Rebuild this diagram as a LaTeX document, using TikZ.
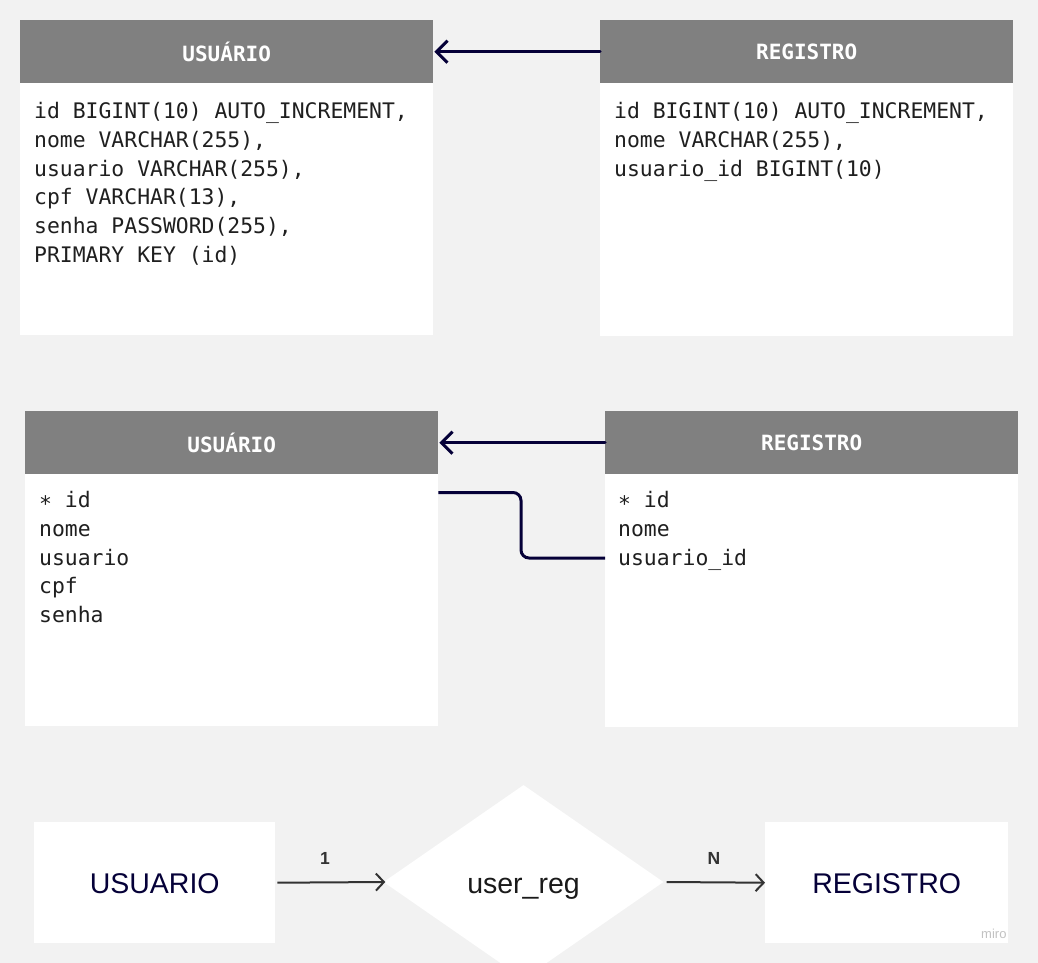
\documentclass[tikz,border=0pt]{standalone}
\usepackage{fontspec}
\usetikzlibrary{shapes.geometric,arrows.meta}
\newfontfamily\monof{DejaVu Sans Mono}
\newfontfamily\sansf{Liberation Sans}
\definecolor{bg}{HTML}{F2F2F2}
\definecolor{hdr}{HTML}{808080}
\definecolor{navy}{HTML}{050038}
\definecolor{dk}{HTML}{333333}
\definecolor{reltext}{HTML}{1A1A1A}
\definecolor{wm}{HTML}{C2C2C2}
\newcommand{\firstline}{\rule{0pt}{20pt}}
\begin{document}
\begin{tikzpicture}[x=1pt,y=-1pt,
  hdrbox/.style={fill=hdr, minimum width=413pt, minimum height=63pt, inner sep=0pt,
    anchor=north west, text=white, font=\monof\bfseries\fontsize{21}{25}\selectfont},
  bodybox/.style={fill=white, minimum width=413pt, minimum height=252pt, inner sep=0pt,
    anchor=north west},
  bodytext/.style={anchor=north west, align=left, inner sep=0pt, text=black!88,
    font=\monof\fontsize{21.4}{28.9}\selectfont},
  fklink/.style={draw=navy, line width=3pt, line cap=round},
  fkarrow/.style={fklink, -{Straight Barb[length=11pt,width=22pt,line width=3pt]}},
  entbox/.style={fill=white, minimum width=241pt, minimum height=121pt, inner sep=0pt,
    text=navy, font=\sansf\fontsize{28.5}{30}\selectfont, text height=21pt, text depth=0pt},
  relbox/.style={diamond, fill=white, minimum width=280pt, minimum height=194pt,
    aspect=1.44, inner sep=0pt, text=reltext, font=\sansf\fontsize{28.5}{30}\selectfont,
    text height=22pt, text depth=0pt},
  erarrow/.style={draw=dk, line width=2pt, -{Straight Barb[length=8pt,width=17pt,line width=2pt]}},
  cardlabel/.style={anchor=base, inner sep=0pt, text=dk, font=\sansf\bfseries\fontsize{17.5}{20}\selectfont}
]
\path[use as bounding box] (0,0) rectangle (1038,963);
\fill[bg] (0,0) rectangle (1038,963);

% ---- top tables ----
\node[bodybox] (ub1) at (20,83) {};
\node[hdrbox] (uh1) at (20,20) {USUÁRIO};
\node[bodytext] (ut1) at (34,98) {\firstline id BIGINT(10) AUTO\_INCREMENT,\\nome VARCHAR(255),\\usuario VARCHAR(255),\\cpf VARCHAR(13),\\senha PASSWORD(255),\\PRIMARY KEY (id)};

\node[bodybox, minimum height=253pt] (rb1) at (600,83) {};
\node[hdrbox] (rh1) at (600,20) {REGISTRO};
\node[bodytext] (rt1) at (614,98) {\firstline id BIGINT(10) AUTO\_INCREMENT,\\nome VARCHAR(255),\\usuario\_id BIGINT(10)};

\draw[fkarrow] (rh1.west) -- ([xshift=1pt]uh1.east);

% ---- middle tables ----
\node[bodybox] (ub2) at (25,474) {};
\node[hdrbox] (uh2) at (25,411) {USUÁRIO};
\node[bodytext] (ut2) at (39,487) {\firstline\raisebox{-0.18em}{*} id\\nome\\usuario\\cpf\\senha};

\node[bodybox, minimum height=253pt] (rb2) at (605,474) {};
\node[hdrbox] (rh2) at (605,411) {REGISTRO};
\node[bodytext] (rt2) at (618,487) {\firstline\raisebox{-0.18em}{*} id\\nome\\usuario\_id};

\draw[fkarrow] (rh2.west) -- ([xshift=1pt]uh2.east);
\coordinate (fkfrom) at ([yshift=-18.5pt]ub2.north east);
\coordinate (fkto) at ([yshift=-84pt]rb2.north west);
\draw[fklink, line cap=butt, rounded corners=8pt] (fkfrom) -- (521,492.5) -- (521,558) -- (fkto);

% ---- ER diagram ----
\node[entbox, anchor=north west] (eu) at (34,822) {USUARIO};
\node[entbox, anchor=north west, minimum width=243pt] (er) at (765,822) {REGISTRO};
\begin{scope}
\clip (0,0) rectangle (1038,963);
\node[relbox] (rel) at (523.5,882) {user\_reg};
\end{scope}
\draw[erarrow] ([xshift=2pt]eu.east) -- ([xshift=2pt]rel.west);
\draw[erarrow] ([xshift=3pt]rel.east) -- (er.west);
\node[cardlabel] (c1) at (325,864) {1};
\node[cardlabel] (cn) at (714,864) {N};

\node[anchor=base west, inner sep=0pt, text=wm, font=\sansf\fontsize{13}{15}\selectfont] (wmk) at (981,938) {miro};
\end{tikzpicture}
\end{document}
